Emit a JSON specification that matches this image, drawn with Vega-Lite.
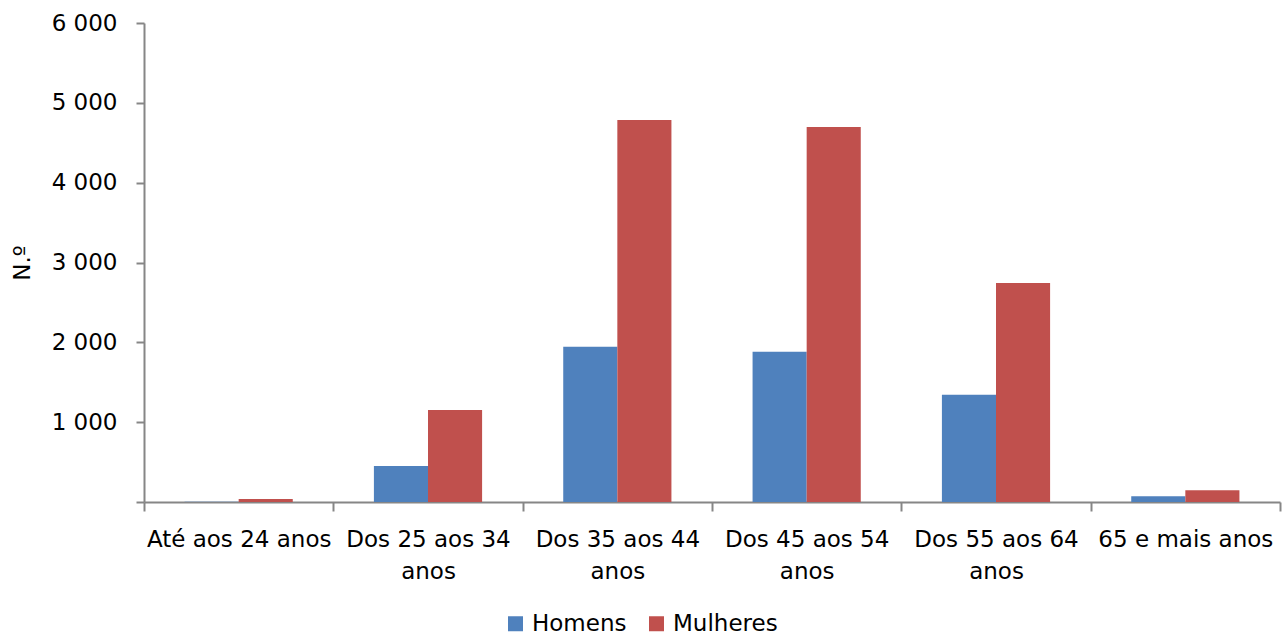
{
  "$schema": "https://vega.github.io/schema/vega-lite/v6.json",
  "width": 1136,
  "height": 479,
  "autosize": {"type": "none"},
  "padding": {"left": 144, "top": 23, "right": 5, "bottom": 134},
  "background": "white",
  "config": {
    "font": "DejaVu Sans",
    "view": {"stroke": null},
    "axis": {"labelFont": "DejaVu Sans", "titleFont": "DejaVu Sans", "labelColor": "black", "titleColor": "black"}
  },
  "data": {
    "values": [
      {"categoria": "Até aos 24 anos", "sexo": "Homens", "valor": 3},
      {"categoria": "Até aos 24 anos", "sexo": "Mulheres", "valor": 38},
      {"categoria": "Dos 25 aos 34 anos", "sexo": "Homens", "valor": 452},
      {"categoria": "Dos 25 aos 34 anos", "sexo": "Mulheres", "valor": 1152},
      {"categoria": "Dos 35 aos 44 anos", "sexo": "Homens", "valor": 1945},
      {"categoria": "Dos 35 aos 44 anos", "sexo": "Mulheres", "valor": 4785},
      {"categoria": "Dos 45 aos 54 anos", "sexo": "Homens", "valor": 1882},
      {"categoria": "Dos 45 aos 54 anos", "sexo": "Mulheres", "valor": 4698},
      {"categoria": "Dos 55 aos 64 anos", "sexo": "Homens", "valor": 1343},
      {"categoria": "Dos 55 aos 64 anos", "sexo": "Mulheres", "valor": 2743},
      {"categoria": "65 e mais anos", "sexo": "Homens", "valor": 72},
      {"categoria": "65 e mais anos", "sexo": "Mulheres", "valor": 148}
    ]
  },
  "mark": {"type": "bar"},
  "encoding": {
    "x": {
      "field": "categoria",
      "type": "nominal",
      "sort": null,
      "scale": {"paddingInner": 0, "paddingOuter": 0},
      "axis": {
        "title": null,
        "labelAngle": 0,
        "labelFontSize": 23,
        "labelPadding": 17,
        "labelLineHeight": 32,
        "labelLimit": 0,
        "labelExpr": "length(datum.label) > 15 ? [substring(datum.label, 0, 13), substring(datum.label, 14)] : datum.label",
        "tickBand": "extent",
        "tickSize": 9,
        "tickColor": "#868686",
        "domainColor": "#868686",
        "tickWidth": 2,
        "domainWidth": 2,
        "labelColor": "black"
      }
    },
    "xOffset": {"field": "sexo", "type": "nominal", "sort": ["Homens", "Mulheres"], "scale": {"paddingInner": 0, "paddingOuter": 0.75}},
    "y": {
      "field": "valor",
      "type": "quantitative",
      "scale": {"domain": [0, 6000], "nice": false},
      "axis": {
        "title": "N.º",
        "titleFontSize": 23,
        "titleFontWeight": "normal",
        "titleX": -122,
        "titleBaseline": "middle",
        "values": [0, 1000, 2000, 3000, 4000, 5000, 6000],
        "labelExpr": "datum.value == 0 ? '' : replace(format(datum.value, ','), ',', ' ')",
        "labelFontSize": 23,
        "labelPadding": 19,
        "tickSize": 8,
        "tickColor": "#868686",
        "domainColor": "#868686",
        "tickWidth": 2,
        "domainWidth": 2,
        "grid": false,
        "labelColor": "black"
      }
    },
    "color": {
      "field": "sexo",
      "type": "nominal",
      "sort": ["Homens", "Mulheres"],
      "scale": {"domain": ["Homens", "Mulheres"], "range": ["#4F81BD", "#C0504D"]},
      "legend": {
        "title": null,
        "orient": "none",
        "direction": "horizontal",
        "legendX": 360,
        "legendY": 589,
        "symbolType": "square",
        "symbolSize": 225,
        "symbolStrokeWidth": 0,
        "symbolOpacity": 1,
        "labelFontSize": 23,
        "labelOffset": 5,
        "columnPadding": 18,
        "labelColor": "black",
        "labelFont": "DejaVu Sans"
      }
    }
  }
}
